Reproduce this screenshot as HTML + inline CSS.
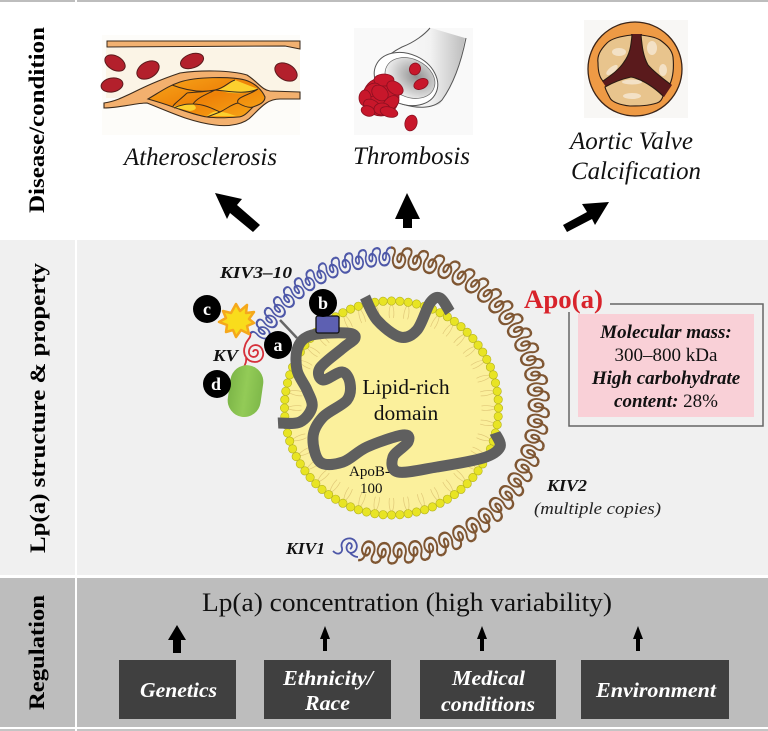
<!DOCTYPE html>
<html><head><meta charset="utf-8"><style>
html,body{margin:0;padding:0;background:#fff;width:768px;height:731px;overflow:hidden}
svg{display:block}
text{font-family:"Liberation Serif",serif}
.i{font-style:italic}.b{font-weight:bold}
.w{fill:#fff;font-weight:bold;font-style:italic;text-anchor:middle}
.l{font-weight:bold;font-size:17px;font-style:italic;fill:#111}
.n{font-weight:bold;font-size:18px;fill:#fff;text-anchor:middle}
</style></head><body>
<svg xmlns="http://www.w3.org/2000/svg" width="768" height="731" viewBox="0 0 768 731">
<defs>
<path id="u" fill="none" d="M0,0C4,0 5,-2 4,-5C1,-10 3,-16 9,-16C15,-16 17,-10 15,-7C13,-4 10,-4 8,-6C6,-9 8,-12 10,-11C12,-10 11,-7 12,-4C13,-1 15,0 18,0"/>
<linearGradient id="pl" x1="0" y1="0" x2="1" y2="1"><stop offset="0" stop-color="#f7a81c"/><stop offset=".5" stop-color="#ee8208"/><stop offset="1" stop-color="#f8a818"/></linearGradient>
<linearGradient id="tb" x1="0" y1="0" x2="1" y2="0"><stop offset="0" stop-color="#fff"/><stop offset=".6" stop-color="#f2f2f2"/><stop offset="1" stop-color="#bdbdbd"/></linearGradient>
<radialGradient id="gr" cx=".6" cy=".4" r=".7"><stop offset="0" stop-color="#8f8f8f"/><stop offset=".6" stop-color="#d2d2d2"/><stop offset="1" stop-color="#fff"/></radialGradient>
<linearGradient id="gc" x1="0" y1="0" x2="1" y2="0"><stop offset="0" stop-color="#7db648"/><stop offset=".5" stop-color="#93cb57"/><stop offset="1" stop-color="#7fb94a"/></linearGradient>
</defs>

<!-- bands -->
<rect width="768" height="731" fill="#fff"/>
<rect width="768" height="2" fill="#bdbdbd"/>
<rect y="240" width="768" height="335" fill="#f0f0f0"/>
<rect y="578" width="768" height="149" fill="#bdbdbd"/>
<rect y="729" width="768" height="2" fill="#c4c4c4"/>
<rect x="75" y="0" width="2" height="731" fill="#fff"/>

<!-- side labels -->
<text class="b" font-size="22" textLength="186" lengthAdjust="spacingAndGlyphs" transform="translate(44,213) rotate(-90)">Disease/condition</text>
<text class="b" font-size="22" textLength="290" lengthAdjust="spacingAndGlyphs" transform="translate(45,553) rotate(-90)">Lp(a) structure &amp; property</text>
<text class="b" font-size="22" textLength="115" lengthAdjust="spacingAndGlyphs" transform="translate(44,710) rotate(-90)">Regulation</text>

<!-- atherosclerosis -->
<rect x="102" y="35" width="198" height="100" fill="#fdfcf9"/>
<rect x="106" y="48" width="194" height="50" fill="#fbf4e6"/>
<path d="M107,41L300,41L300,49L285,46L107,47Z" fill="#f2b171" stroke="#3a2a1c" stroke-width="1"/>
<path d="M104,103C125,100 135,88 180,73C200,70 230,70 247,75C258,82 262,90 270,91L300,92L300,99L280,99C268,99 262,106 252,116C245,124 230,127 215,125C190,122 170,112 147,103C135,103 120,108 104,108Z" fill="#f3b06e" stroke="#3a2a1c" stroke-width="1.100"/>
<path d="M148,99C160,92 168,86 180,82C195,77 230,76 245,80C255,83 262,90 265,97C265,103 258,105 253,107C248,112 244,117 238,117C225,118 215,118 207,117C195,115 185,111 173,107C165,104 155,101 148,99Z" fill="url(#pl)" stroke="#3a2a1c" stroke-width="1.100"/>
<path d="M218,90C228,86 232,81 235,80L258,89C248,94 232,95 218,90Z" fill="#fcd02e"/>
<path d="M173,107C180,104 187,104 193,104C198,108 196,110 190,111Z" fill="#fcd02e"/>
<path d="M207,116C212,112 216,110 220,112C228,112 233,116 238,116Z" fill="#fcd02e"/>
<path d="M172,85C185,90 200,93 215,90C225,88 228,82 235,80M215,90C228,91 245,95 258,89M187,93C180,100 172,105 173,107M187,93C195,92 205,92 215,90M193,104C197,98 205,95 215,90M193,104C205,104 215,110 220,112C228,108 232,104 238,103C245,107 250,108 253,107M174,108C182,104 188,104 193,104M220,112L207,117M238,103C235,97 250,95 258,89" fill="none" stroke="#3a2a1c" stroke-width="1"/>
<g fill="#b3202c" stroke="#5c1a1c" stroke-width="1">
<ellipse cx="115" cy="63" rx="11" ry="7" transform="rotate(30 115 63)"/>
<ellipse cx="148" cy="70" rx="12" ry="8" transform="rotate(-30 148 70)"/>
<ellipse cx="192" cy="61" rx="12" ry="7" transform="rotate(-20 192 61)"/>
<ellipse cx="286" cy="72" rx="12" ry="8" transform="rotate(30 286 72)"/>
<ellipse cx="112" cy="85" rx="11" ry="7" transform="rotate(-10 112 85)"/>
</g>
<text class="i" font-size="25" x="124" y="165" textLength="153" lengthAdjust="spacingAndGlyphs" fill="#111">Atherosclerosis</text>

<!-- thrombosis -->
<rect x="354" y="28" width="119" height="107" fill="#f9f9f9"/>
<path d="M431,28L465,38C462,55 456,80 440,104C425,112 400,100 378,78C380,65 395,52 410,44C420,38 426,32 431,28Z" fill="url(#tb)" stroke="none"/>
<path d="M430,28C425,34 415,42 402,47C388,54 380,62 376,72M466,38C462,58 455,82 442,100C432,110 415,108 402,104" fill="none" stroke="#555" stroke-width="1"/>
<ellipse cx="406" cy="79" rx="33" ry="25" transform="rotate(25 406 79)" fill="#fff" stroke="#555" stroke-width="1"/>
<ellipse cx="410" cy="78" rx="26" ry="19" transform="rotate(25 410 78)" fill="url(#gr)" stroke="#666" stroke-width=".7"/>
<g fill="#c8172b" stroke="#8a1020" stroke-width=".8">
<ellipse cx="415" cy="69" rx="5.500" ry="6" transform="rotate(25 415 69)"/>
<ellipse cx="421" cy="84" rx="7.500" ry="5" transform="rotate(-25 421 84)"/>
<ellipse cx="411" cy="123" rx="6" ry="8" transform="rotate(15 411 123)"/>
<ellipse cx="381" cy="97" rx="18" ry="19"/>
<ellipse cx="384" cy="80" rx="10" ry="6"/>
<ellipse cx="395" cy="88" rx="9" ry="6" transform="rotate(35 395 88)"/>
<ellipse cx="372" cy="90" rx="9" ry="6" transform="rotate(-30 372 90)"/>
<ellipse cx="365" cy="98" rx="6" ry="8"/>
<ellipse cx="380" cy="93" rx="9" ry="7" transform="rotate(40 380 93)"/>
<ellipse cx="391" cy="103" rx="9" ry="6" transform="rotate(-40 391 103)"/>
<ellipse cx="372" cy="106" rx="9" ry="6" transform="rotate(30 372 106)"/>
<ellipse cx="368" cy="111" rx="7" ry="5" transform="rotate(20 368 111)"/>
<ellipse cx="382" cy="109" rx="8" ry="6"/>
<ellipse cx="389" cy="112" rx="9" ry="5" transform="rotate(15 389 112)"/>
</g>
<text class="i" font-size="25" x="353" y="164" textLength="117" lengthAdjust="spacingAndGlyphs" fill="#111">Thrombosis</text>

<!-- valve -->
<rect x="584" y="20" width="104" height="98" fill="#f8f7f5"/>
<circle cx="635" cy="69" r="47" fill="#ee9a45" stroke="#3a2418" stroke-width="1.300"/>
<polygon points="631,34 642,34 648,64 672,85 664,97 631,77 606,87 602,81 624,62" fill="#5a1a1c"/>
<g fill="#e8c48d" stroke="#2a1a12" stroke-width="1.100">
<path d="M632,35C622,36 612,38 607,43C600,50 597,56 598,63C598,72 600,78 603,81C610,76 619,70 624,62C630,54 631,46 632,35Z"/>
<path d="M641,35C648,36 655,37 660,40C667,45 672,50 673,57C674,67 673,77 670,84C662,78 654,72 648,65C643,56 642,46 641,35Z"/>
<path d="M605,87C612,83 622,79 631,77C642,79 655,88 663,96C662,100 660,102 657,103C648,106 638,106 630,106C620,105 612,102 610,98C608,94 606,91 605,87Z"/>
</g>
<g fill="#fff" opacity=".5">
<ellipse cx="612" cy="70" rx="7" ry="3" transform="rotate(-40 612 70)"/>
<ellipse cx="619" cy="52" rx="7" ry="4"/>
<ellipse cx="652" cy="48" rx="5" ry="7"/>
<ellipse cx="663" cy="70" rx="4" ry="6"/>
<ellipse cx="632" cy="82" rx="10" ry="2.500"/>
<ellipse cx="632" cy="96" rx="9" ry="3"/>
</g>
<text class="i" font-size="25" x="570" y="149" textLength="123" lengthAdjust="spacingAndGlyphs" fill="#111">Aortic Valve</text>
<text class="i" font-size="25" x="571" y="179" textLength="130" lengthAdjust="spacingAndGlyphs" fill="#111">Calcification</text>

<!-- big arrows -->
<polygon points="215,193 242,199 237,205 260,225 253,232 230,213 227,219" fill="#000"/>
<polygon points="407,193 420,219 412,219 412,228 403,228 403,219 395,219" fill="#000"/>
<polygon points="609,202 582,204 587,212 563,225 567,232 592,219 595,225" fill="#000"/>

<!-- particle -->
<circle cx="391.500" cy="408" r="106" fill="#fbf09c"/>
<g id="tails" fill="none" stroke="#e0c878" stroke-width=".7"></g>
<g id="beads" fill="#e8e424" stroke="#b3b01e" stroke-width=".6"></g>
<g id="apob" fill="none" stroke="#5f5f5f" stroke-width="11" stroke-linecap="butt" stroke-linejoin="round"></g>

<!-- coils -->
<g id="brown" stroke="#7f5632" stroke-width="2" fill="none"></g>
<g id="blue" stroke="#4d57a8" stroke-width="2" fill="none"></g>
<path d="M333,551C338,556 343,553 342,548C339,540 350,535 355,541C359,547 356,552 351,553C346,552 345,546 349,543C352,543 353,547 350,549M350,553C353,556 356,557 358,557" fill="none" stroke="#4d57a8" stroke-width="1.800"/>
<path d="M250,333C252,338 246,340 245,346C242,354 247,362 255,362C262,362 265,355 262,349C259,343 250,344 249,351C248,358 257,359 258,353C258,349 254,349 253,352M246,358C247,362 245,364 244,367" fill="none" stroke="#d6303a" stroke-width="1.800"/>

<line x1="280" y1="320" x2="297" y2="338" stroke="#666" stroke-width="2.500"/>
<rect x="316" y="316" width="23" height="17" rx="2" fill="#5d60b2" stroke="#111" stroke-width="1.300"/>
<rect x="229" y="365" width="33" height="52" rx="16.500" fill="url(#gc)" transform="rotate(8 245 391)"/>
<polygon points="236,304 240,311 247,305 246,313 254,312 249,319 254,323 247,326 249,334 241,330 236,337 233,330 226,332 227,325 219,322 226,318 223,311 231,313" fill="#f9dc1c" stroke="#f5a81c" stroke-width="2.500" stroke-linejoin="round"/>
<g fill="#000"><circle cx="207" cy="309" r="14"/><circle cx="323" cy="303" r="14"/><circle cx="278" cy="345" r="14"/><circle cx="217" cy="384" r="14"/></g>
<text class="n" x="207" y="315">c</text><text class="n" x="323" y="309">b</text><text class="n" x="278" y="351">a</text><text class="n" x="216" y="390">d</text>

<text class="l" x="220" y="278" textLength="72" lengthAdjust="spacingAndGlyphs">KIV3–10</text>
<text class="l" x="213" y="361" textLength="25" lengthAdjust="spacingAndGlyphs">KV</text>
<text class="l" x="286" y="554" textLength="39" lengthAdjust="spacingAndGlyphs">KIV1</text>
<text class="l" x="547" y="491" textLength="40" lengthAdjust="spacingAndGlyphs">KIV2</text>
<text class="i" font-size="17" x="534" y="514" textLength="127" lengthAdjust="spacingAndGlyphs" fill="#222">(multiple copies)</text>
<text font-size="21.500" x="406" y="394" text-anchor="middle" fill="#111">Lipid-rich</text>
<text font-size="21.500" x="406" y="420" text-anchor="middle" fill="#111">domain</text>
<text font-size="15" x="349" y="476" fill="#111">ApoB-</text>
<text font-size="15" x="360" y="493" fill="#111">100</text>

<text class="b" font-size="26" x="524" y="308" textLength="79" lengthAdjust="spacingAndGlyphs" fill="#d8232b">Apo(a)</text>
<path d="M610,304H763V426H569V312" fill="none" stroke="#666" stroke-width="1.500"/>
<rect x="578" y="314" width="176" height="103" fill="#f9d0d7"/>
<g font-size="19" text-anchor="middle" fill="#111">
<text class="b i" x="666" y="338">Molecular mass:</text>
<text x="666" y="361">300–800 kDa</text>
<text class="b i" x="666" y="384">High carbohydrate</text>
<text x="666" y="407"><tspan class="b i">content:</tspan> 28%</text>
</g>

<!-- regulation -->
<text font-size="26" x="202" y="611" textLength="410" lengthAdjust="spacingAndGlyphs" fill="#111">Lp(a) concentration (high variability)</text>
<polygon points="177,625 186,640 181,640 181,653 173,653 173,640 168,640" fill="#000"/>
<polygon points="325,626 330,639 327,639 327,651 323,651 323,639 320,639" fill="#000"/>
<polygon points="482,626 487,639 484,639 484,651 480,651 480,639 477,639" fill="#000"/>
<polygon points="638,626 643,639 640,639 640,651 636,651 636,639 633,639" fill="#000"/>
<g fill="#404040">
<rect x="119" y="660" width="117" height="59"/><rect x="264" y="660" width="127" height="59"/>
<rect x="420" y="660" width="136" height="59"/><rect x="581" y="660" width="148" height="59"/>
</g>
<g font-size="21">
<text class="w" x="178.500" y="697" textLength="77" lengthAdjust="spacingAndGlyphs">Genetics</text>
<text class="w" x="328" y="685" textLength="90" lengthAdjust="spacingAndGlyphs">Ethnicity/</text>
<text class="w" x="327.500" y="710" textLength="45" lengthAdjust="spacingAndGlyphs">Race</text>
<text class="w" x="488.500" y="685" textLength="73" lengthAdjust="spacingAndGlyphs">Medical</text>
<text class="w" x="488" y="711" textLength="94" lengthAdjust="spacingAndGlyphs">conditions</text>
<text class="w" x="656" y="697" textLength="120" lengthAdjust="spacingAndGlyphs">Environment</text>
</g>
</svg>
<script>
(function(){
var NS="http://www.w3.org/2000/svg";
function el(p,n,a){var e=document.createElementNS(NS,n);for(var k in a)e.setAttribute(k,a[k]);document.getElementById(p).appendChild(e);return e;}
var cx=391.5,cy=408,R=107,N=80,i;
for(i=0;i<N;i++){var t=i/N*2*Math.PI,c=Math.cos(t),s=Math.sin(t);
 el("beads","circle",{cx:(cx+R*c).toFixed(1),cy:(cy+R*s).toFixed(1),r:4.2});
 var r1=R-4,r2=R-17,d=2;
 var px=-s,py=c;
 if(i%2==0)[-1,1].forEach(function(q){
  var x1=cx+r1*c+q*d*px*.5,y1=cy+r1*s+q*d*py*.5,x2=cx+r2*c+q*d*px,y2=cy+r2*s+q*d*py,
      mx=cx+(r1+r2)/2*c+q*d*px*1.6,my=cy+(r1+r2)/2*s+q*d*py*1.6;
  el("tails","path",{d:"M"+x1.toFixed(1)+","+y1.toFixed(1)+"Q"+mx.toFixed(1)+","+my.toFixed(1)+" "+x2.toFixed(1)+","+y2.toFixed(1)});
 });
}
function spline(p){var d="M"+p[0][0]+","+p[0][1];for(var i=0;i<p.length-1;i++){var a=p[i-1]||p[i],b=p[i],c=p[i+1],e=p[i+2]||c;
 d+="C"+(b[0]+(c[0]-a[0])/6).toFixed(1)+","+(b[1]+(c[1]-a[1])/6).toFixed(1)+" "+(c[0]-(e[0]-b[0])/6).toFixed(1)+","+(c[1]-(e[1]-b[1])/6).toFixed(1)+" "+c[0]+","+c[1];}return d;}
el("apob","path",{d:spline([[278,423],[300,422],[312,407],[307,390],[297,370],[298,347],[312,335],[347,333],[355,338],[343,348],[320,368],[323,380],[342,372],[350,383],[347,400],[323,417],[313,437],[320,462],[343,462],[367,447],[403,435],[408,442],[393,457],[398,472],[437,467],[483,458],[500,447],[495,433]])});
el("apob","path",{d:spline([[365,297],[377,320],[400,337],[417,330],[430,303],[440,298],[450,312]])});
function coil(g,a0,a1,n,sy){var CX=391,CY=405.5,RR=158;
 for(var i=0;i<n;i++){var A=(a0+(a1-a0)*i/n)*Math.PI/180,B=(a0+(a1-a0)*(i+1)/n)*Math.PI/180;
  var x=CX+RR*Math.sin(A),y=CY-RR*Math.cos(A),x2=CX+RR*Math.sin(B),y2=CY-RR*Math.cos(B);
  var L=Math.hypot(x2-x,y2-y),rot=Math.atan2(y2-y,x2-x)*180/Math.PI;
  el(g,"use",{href:"#u",transform:"translate("+x.toFixed(2)+","+y.toFixed(2)+") rotate("+rot.toFixed(2)+") scale("+(L/18).toFixed(3)+","+(-sy)+")"});
 }}
coil("brown",0,192,31,1.25);
coil("blue",-63,0,12,1.1);
})();
</script>
</body></html>
